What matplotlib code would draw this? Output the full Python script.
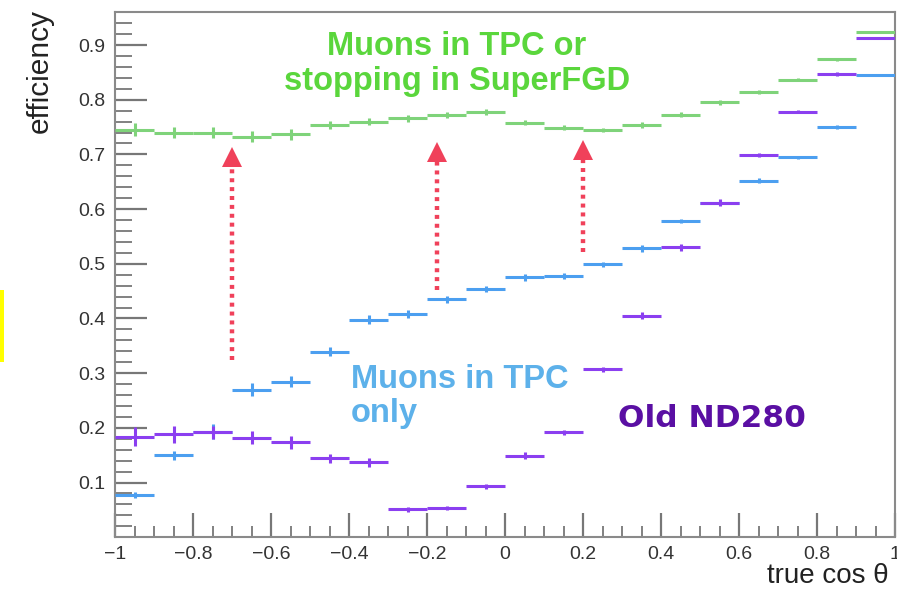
import numpy as np
import matplotlib
matplotlib.use("Agg")
import matplotlib.pyplot as plt
from matplotlib.ticker import MultipleLocator, FuncFormatter
from matplotlib.patches import Rectangle

plt.rcParams['font.family'] = ['Liberation Sans', 'DejaVu Sans']

# ---- data ----
bin_edges = np.linspace(-1, 1, 21)
bin_centers = 0.5 * (bin_edges[:-1] + bin_edges[1:])
bin_half = 0.05

eff_tpc_or_sfgd = [0.745, 0.740, 0.740, 0.732, 0.737, 0.754, 0.760, 0.766, 0.772, 0.778,
                   0.758, 0.749, 0.745, 0.754, 0.773, 0.795, 0.814, 0.837, 0.874, 0.924]
err_tpc_or_sfgd = [0.012, 0.010, 0.010, 0.010, 0.010, 0.008, 0.006, 0.006, 0.006, 0.005,
                   0.005, 0.004, 0.004, 0.005, 0.004, 0.004, 0.003, 0.003, 0.003, 0.002]

eff_tpc_only = [0.077, 0.150, 0.193, 0.270, 0.284, 0.339, 0.398, 0.408, 0.435, 0.454,
                0.475, 0.478, 0.499, 0.528, 0.578, 0.612, 0.652, 0.695, 0.750, 0.845]
err_tpc_only = [0.006, 0.008, 0.014, 0.012, 0.010, 0.008, 0.008, 0.008, 0.007, 0.006,
                0.006, 0.006, 0.005, 0.006, 0.004, 0.005, 0.004, 0.003, 0.003, 0.002]

eff_old_nd280 = [0.184, 0.188, 0.192, 0.182, 0.174, 0.144, 0.137, 0.051, 0.053, 0.093,
                 0.149, 0.192, 0.307, 0.405, 0.530, 0.612, 0.699, 0.778, 0.847, 0.913]
err_old_nd280 = [0.018, 0.015, 0.012, 0.012, 0.012, 0.008, 0.008, 0.004, 0.004, 0.005,
                 0.006, 0.005, 0.005, 0.006, 0.007, 0.006, 0.004, 0.003, 0.003, 0.002]

arrow_x = [-0.70, -0.175, 0.20]
arrow_start = [0.324, 0.452, 0.522]
arrow_tip = [0.714, 0.723, 0.726]

# ---- figure ----
W, H = 897, 591
fig = plt.figure(figsize=(W / 100, H / 100), dpi=100)
ax = fig.add_axes([115 / W, 1 - 536.7 / H, (895 - 115) / W, (536.7 - 11.7) / H])

c_green = '#7fd37a'
c_blue = '#4c9ff0'
c_purple = '#8b3ff0'

for vals, errs, col, z in [(eff_tpc_or_sfgd, err_tpc_or_sfgd, c_green, 3),
                           (eff_tpc_only, err_tpc_only, c_blue, 4),
                           (eff_old_nd280, err_old_nd280, c_purple, 5)]:
    ax.errorbar(bin_centers, vals, xerr=bin_half, yerr=errs, fmt='none',
                ecolor=col, elinewidth=2.2, capsize=0, zorder=z)

# arrows
c_arrow = '#f0415a'
head_h = 0.036
for x, y0, y1 in zip(arrow_x, arrow_start, arrow_tip):
    ax.plot([x, x], [y0, y1 - head_h], color=c_arrow, lw=3.2,
            linestyle=(0, (0.9, 1.1)), solid_capstyle='butt', zorder=6)
    ax.plot([x], [y1 - head_h / 2], marker='^', markersize=14.5,
            color=c_arrow, markeredgewidth=0, zorder=6)

ax.set_xlim(-1, 1)
ax.set_ylim(0.001, 0.961)

ax.xaxis.set_major_locator(MultipleLocator(0.2))
ax.xaxis.set_minor_locator(MultipleLocator(0.05))
ax.yaxis.set_major_locator(MultipleLocator(0.1))
ax.yaxis.set_minor_locator(MultipleLocator(0.02))

def fmt(v, pos):
    s = '%g' % round(v, 3)
    if s == '-0':
        s = '0'
    return s.replace('-', '\u2212')

ax.xaxis.set_major_formatter(FuncFormatter(fmt))
ax.yaxis.set_major_formatter(FuncFormatter(fmt))

ax.tick_params(axis='both', which='both', direction='in', colors='#777777',
               labelcolor='#333333', labelsize=14, top=False, right=False)
ax.tick_params(axis='y', which='major', length=23, width=1.6, pad=7)
ax.tick_params(axis='y', which='minor', length=12, width=1.3)
ax.tick_params(axis='x', which='major', length=17, width=1.6, pad=7)
ax.tick_params(axis='x', which='minor', length=8, width=1.3)

for sp in ax.spines.values():
    sp.set_color('#8a8a8a')
    sp.set_linewidth(1.5)

# labels
fig.text(40 / W, 1 - 9 / H, 'efficiency', rotation=90, ha='center', va='top',
         fontsize=21.5, color='#222222')
fig.text(767 / W, 1 - 589 / H, 'true cos \u03b8', ha='left', va='bottom',
         fontsize=20, color='#222222')

# annotations
ax.text(-0.123, 0.865, 'Muons in TPC or\nstopping in SuperFGD', ha='center', va='center',
        fontsize=23.5, fontweight='bold', color='#5ad63c', linespacing=1.15, zorder=7)
ax.text(-0.395, 0.257, 'Muons in TPC\nonly', ha='left', va='center',
        fontsize=23.5, fontweight='bold', color='#5db1ea', linespacing=1.1, zorder=7)
ax.text(0.29, 0.218, 'Old ND280', ha='left', va='center', family='DejaVu Sans',
        fontsize=22.5, fontweight='bold', color='#5a0fa3', zorder=7)

# yellow marker at left edge
fig.patches.append(Rectangle((0, 1 - 362 / H), 4 / W, 72 / H, transform=fig.transFigure,
                             facecolor='#ffff00', edgecolor='none'))

fig.savefig('out.png', dpi=100)
